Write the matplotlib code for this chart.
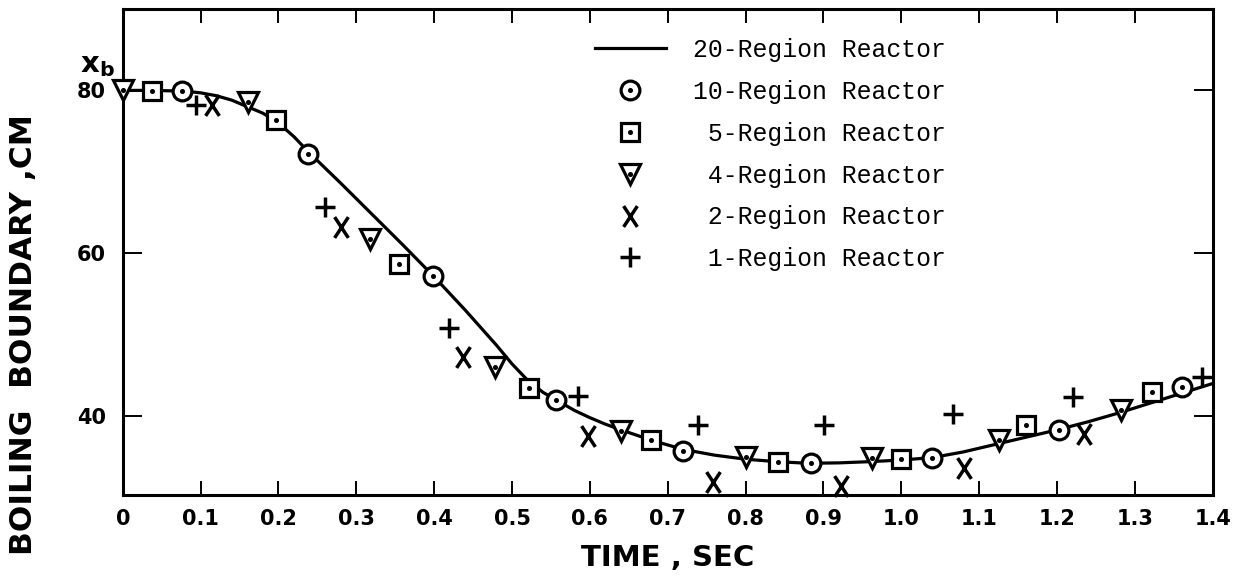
import matplotlib
matplotlib.use("Agg")
import matplotlib.pyplot as plt
from matplotlib.lines import Line2D
from matplotlib.path import Path
from matplotlib.legend_handler import HandlerTuple

# 20-region reactor (solid curve)
t_20 = [0.00, 0.04, 0.08, 0.10, 0.12, 0.14, 0.16, 0.18, 0.20, 0.22, 0.24, 0.28,
        0.32, 0.36, 0.40, 0.44, 0.48, 0.50, 0.52, 0.54, 0.56, 0.58, 0.60, 0.62,
        0.64, 0.68, 0.72, 0.76, 0.80, 0.84, 0.88, 0.92, 0.96, 1.00, 1.04, 1.08,
        1.12, 1.16, 1.20, 1.24, 1.28, 1.32, 1.36, 1.40]
xb_20 = [80.0, 80.0, 79.9, 79.7, 79.35, 78.8, 78.0, 77.2, 76.0, 74.3, 72.3, 68.6,
         64.8, 61.0, 57.1, 53.0, 48.7, 46.4, 44.4, 42.9, 41.8, 40.7, 39.8, 39.0,
         38.3, 37.0, 35.9, 35.2, 34.7, 34.4, 34.2, 34.25, 34.4, 34.6, 34.9, 35.6,
         36.5, 37.4, 38.3, 39.3, 40.4, 41.6, 42.8, 44.0]

t_10 = [0.076, 0.238, 0.399, 0.557, 0.720, 0.884, 1.039, 1.202, 1.360]
xb_10 = [79.9, 72.2, 57.2, 42.0, 35.7, 34.2, 34.9, 38.3, 43.6]

t_5 = [0.037, 0.197, 0.355, 0.522, 0.679, 0.841, 1.000, 1.160, 1.322]
xb_5 = [79.9, 76.4, 58.7, 43.4, 37.1, 34.4, 34.7, 38.85, 43.0]

t_4 = [0.0, 0.161, 0.318, 0.478, 0.640, 0.801, 0.962, 1.126, 1.282]
xb_4 = [80.0, 78.6, 61.8, 46.0, 38.2, 35.0, 34.9, 37.1, 40.7]

t_2 = [0.115, 0.280, 0.4375, 0.597, 0.7585, 0.922, 1.080, 1.235]
xb_2 = [78.2, 63.2, 47.3, 37.5, 31.9, 31.4, 33.6, 37.8]

t_1 = [0.094, 0.260, 0.4195, 0.585, 0.739, 0.901, 1.066, 1.220, 1.386]
xb_1 = [78.2, 65.7, 50.8, 42.5, 38.9, 38.9, 40.2, 42.3, 44.8]

x_ticks = [0, 0.1, 0.2, 0.3, 0.4, 0.5, 0.6, 0.7, 0.8, 0.9, 1.0, 1.1, 1.2, 1.3, 1.4]
x_labels = ["0", "0.1", "0.2", "0.3", "0.4", "0.5", "0.6", "0.7", "0.8", "0.9",
            "1.0", "1.1", "1.2", "1.3", "1.4"]
y_ticks = [40, 60, 80]

labels = ["20-Region Reactor", "10-Region Reactor", " 5-Region Reactor",
          " 4-Region Reactor", " 2-Region Reactor", " 1-Region Reactor"]

# letter-X shaped marker (taller than wide)
x_marker = Path([(-0.33, -0.5), (0.33, 0.5), (-0.33, 0.5), (0.33, -0.5)],
                [Path.MOVETO, Path.LINETO, Path.MOVETO, Path.LINETO])

fig = plt.figure(figsize=(12.45, 5.83), dpi=100)
ax = fig.add_axes([0.0986, 0.1509, 0.8755, 0.8337])

lw = 2.3
mew = 2.3
ax.plot(t_20, xb_20, color="black", lw=lw, zorder=2)

def open_marker(t, xb, marker, ms):
    ax.plot(t, xb, ls="none", marker=marker, ms=ms, mfc="white", mec="black",
            mew=mew, zorder=3, clip_on=False)
    ax.plot(t, xb, ls="none", marker="o", ms=2.6, mfc="black", mec="black",
            zorder=4, clip_on=False)

open_marker(t_10, xb_10, "o", 13.5)
open_marker(t_5, xb_5, "s", 13)
open_marker(t_4, xb_4, "v", 15)
ax.plot(t_2, xb_2, ls="none", marker=x_marker, ms=15, mfc="none", mec="black",
        mew=2.5, zorder=3, clip_on=False)
ax.plot(t_1, xb_1, ls="none", marker="+", ms=15, mec="black", mew=2.5,
        zorder=3, clip_on=False)

ax.set_xlim(0, 1.4)
ax.set_ylim(30.3, 90)
ax.set_xticks(x_ticks)
ax.set_xticklabels(x_labels)
ax.set_yticks(y_ticks)
ax.tick_params(axis="x", direction="in", length=10, width=1.4, top=True,
               labelsize=15, pad=10)
ax.tick_params(axis="y", direction="in", length=13.5, width=1.4, right=True,
               labelsize=15, pad=12)
for lab in ax.get_xticklabels() + ax.get_yticklabels():
    lab.set_fontweight("bold")
for s in ax.spines.values():
    s.set_linewidth(2.2)

ax.set_xlabel("TIME , SEC", fontsize=21, fontweight="bold")
ax.xaxis.set_label_coords(0.5, -0.10)
ax.set_ylabel("BOILING  BOUNDARY ,CM", fontsize=22.5, fontweight="bold")
ax.yaxis.set_label_coords(-0.078, 0.33)
fig.text(0.064, 0.865, r"$\mathbf{x_b}$", fontsize=21, ha="left", va="bottom")

# legend
def mk(marker, ms, **kw):
    return Line2D([], [], ls="none", marker=marker, ms=ms, mfc="white",
                  mec="black", mew=mew, **kw)

dot = Line2D([], [], ls="none", marker="o", ms=2.6, mfc="black", mec="black")
handles = [
    Line2D([], [], color="black", lw=lw),
    (mk("o", 13.5), dot),
    (mk("s", 13), dot),
    (mk("v", 15), dot),
    Line2D([], [], ls="none", marker=x_marker, ms=15, mfc="none", mec="black", mew=2.5),
    Line2D([], [], ls="none", marker="+", ms=15, mec="black", mew=2.5),
]
ax.legend(handles, labels, loc="upper left", bbox_to_anchor=(0.433, 0.94),
          frameon=False, borderpad=0, borderaxespad=0, handlelength=2.87,
          handletextpad=1.1, labelspacing=0.72,
          prop={"family": "Liberation Mono", "size": 17.8},
          handler_map={tuple: HandlerTuple(ndivide=1)})

fig.savefig("out.png", dpi=100)
